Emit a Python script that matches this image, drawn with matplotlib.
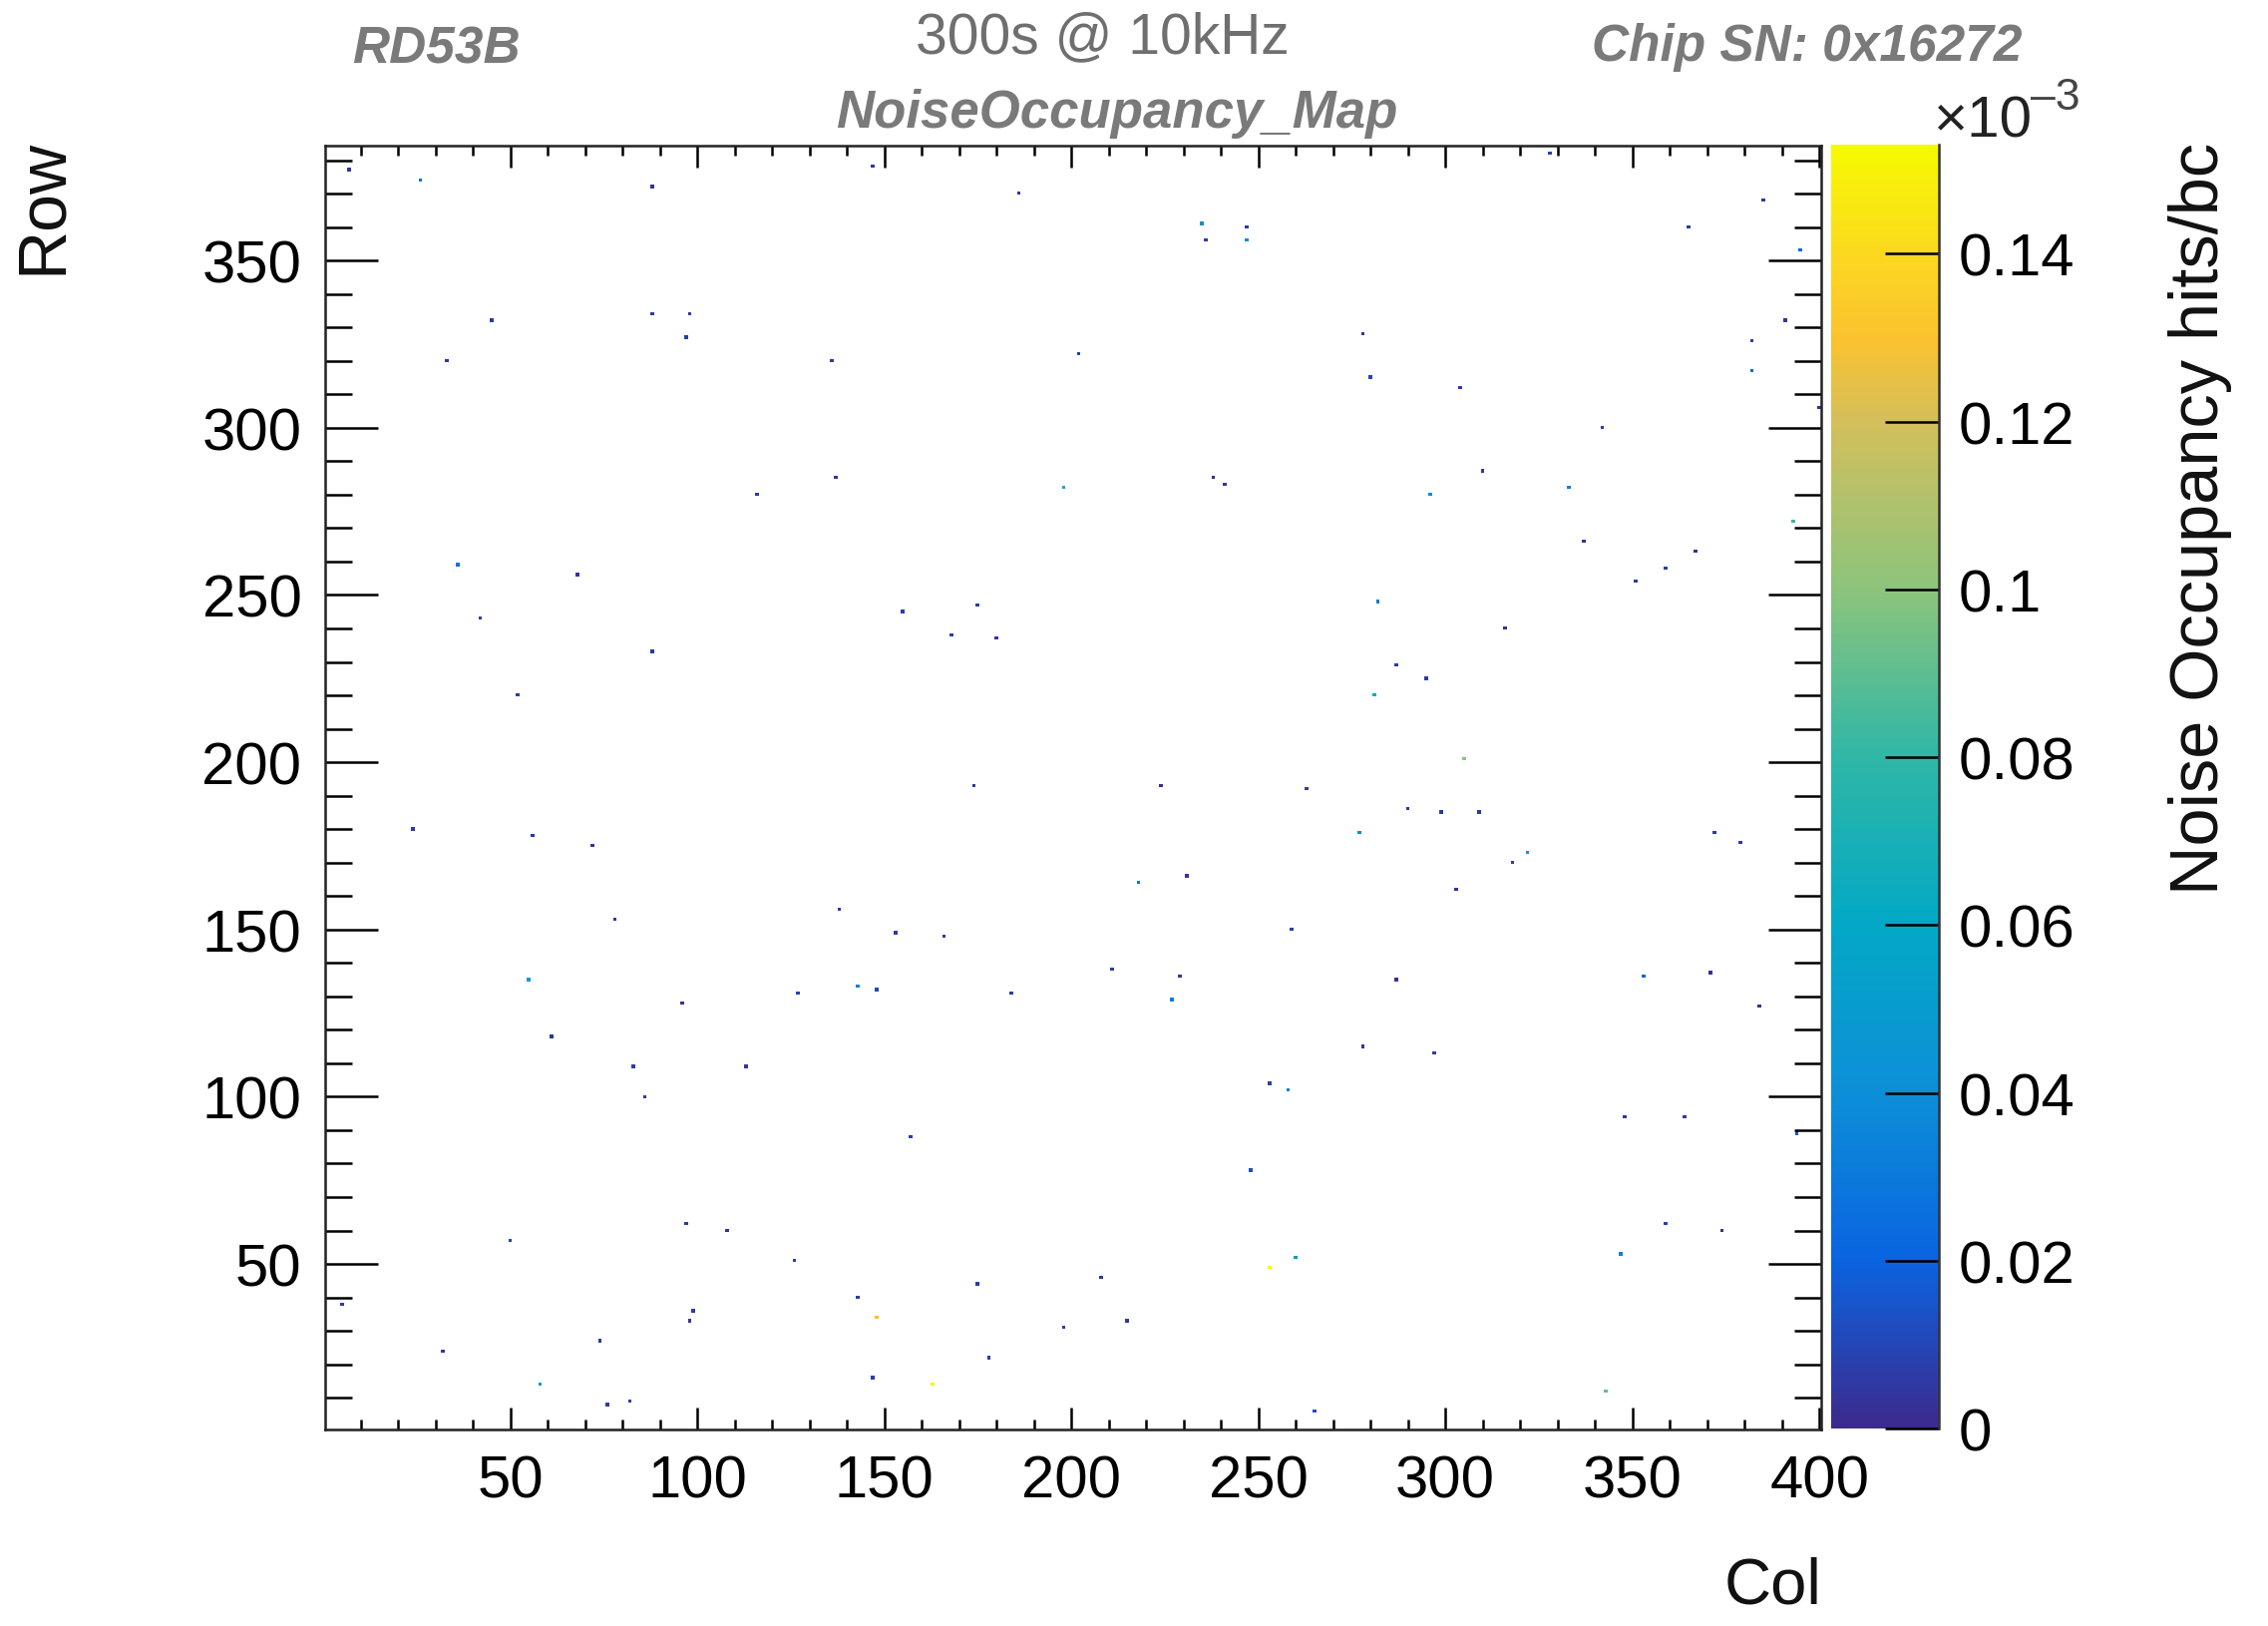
import numpy as np
import matplotlib
matplotlib.use("Agg")
import matplotlib.pyplot as plt
from matplotlib.colors import LinearSegmentedColormap
from matplotlib.lines import Line2D
from matplotlib.ticker import MultipleLocator

plt.rcParams['font.family'] = ['Liberation Sans', 'DejaVu Sans']

cols = [7,26,88,147,186,45,88,98,97,33,136,202,137,116,198,36,68,42,155,175,168,180,88,52,
        328,385,235,247,236,247,365,395,391,278,382,382,280,304,400,342,310,238,241,296,333,393,337,367,359,351,282,316,287,295,281,
        174,24,56,72,78,138,153,166,55,96,127,143,148,184,61,83,113,86,157,50,97,108,126,175,5,143,148,99,98,198,74,32,178,58,163,147,82,76,
        305,224,263,290,299,309,277,372,379,322,318,218,231,303,259,211,229,287,353,371,227,384,278,297,253,258,348,364,394,248,359,374,347,260,253,208,215,343,265]
rows = [377,374,372,378,370,332,334,334,327,320,320,322,285,280,282,259,256,243,245,247,238,237,233,220,
        382,368,361,360,356,356,360,353,332,328,326,317,315,312,306,300,287,285,283,280,282,272,266,263,258,254,248,240,229,225,220,
        193,180,178,175,153,156,149,148,135,128,131,133,132,131,118,109,109,100,88,57,62,60,51,44,38,40,34,36,33,31,27,24,22,14,14,16,9,8,
        201,193,192,186,185,185,179,179,176,173,170,164,166,162,150,138,136,135,136,137,129,127,115,113,104,102,94,94,89,78,62,60,53,52,49,46,33,12,6]
vals = [0.005,0.028,0.004,0.005,0.005,0.006,0.006,0.006,0.006,0.005,0.006,0.008,0.004,0.006,0.07,0.028,0.004,0.006,0.006,0.006,0.007,0.004,0.005,0.006,
        0.007,0.006,0.04,0.006,0.006,0.04,0.006,0.022,0.004,0.005,0.006,0.024,0.010,0.006,0.003,0.006,0.006,0.001,0.005,0.038,0.034,0.082,0.004,0.002,0.006,0.006,0.030,0.002,0.006,0.006,0.060,
        0.005,0.006,0.005,0.005,0.003,0.005,0.006,0.005,0.050,0.004,0.008,0.034,0.010,0.006,0.004,0.007,0.005,0.005,0.006,0.010,0.005,0.004,0.008,0.006,0.006,0.006,0.130,0.006,0.004,0.006,0.005,0.005,0.006,0.045,0.150,0.006,0.006,0.006,
        0.100,0.002,0.006,0.004,0.005,0.005,0.038,0.006,0.006,0.050,0.006,0.030,0.004,0.004,0.006,0.006,0.005,0.004,0.020,0.003,0.032,0.001,0.005,0.006,0.007,0.034,0.005,0.005,0.016,0.014,0.008,0.003,0.034,0.050,0.152,0.006,0.005,0.092,0.012]

x_ticks = [50,100,150,200,250,300,350,400]
y_ticks = [50,100,150,200,250,300,350]
z_ticks = [0,0.02,0.04,0.06,0.08,0.1,0.12,0.14]
z_labels = ['0','0.02','0.04','0.06','0.08','0.1','0.12','0.14']

W, H = 2274, 1631
fig = plt.figure(figsize=(W/100, H/100), dpi=100, facecolor='white')

def rect(l, t, r, b):
    return [l/W, 1-b/H, (r-l)/W, (b-t)/H]

ax = fig.add_axes(rect(326, 146.5, 1826, 1434))
cax = fig.add_axes(rect(1836, 146, 1944, 1433))

grid = np.full((384, 400), np.nan)
for c, r, v in zip(cols, rows, vals):
    grid[r-1, c-1] = v

cmap = LinearSegmentedColormap.from_list('bird', [
    (0/0.153, '#3c2a8c'), (0.01/0.153, '#2447b8'), (0.02/0.153, '#0a64e0'), (0.04/0.153, '#0d8fd8'),
    (0.06/0.153, '#03a8c6'), (0.08/0.153, '#2fb7a6'), (0.10/0.153, '#8cc47c'),
    (0.12/0.153, '#d3bf5c'), (0.13/0.153, '#fbc22f'), (0.14/0.153, '#fcd820'), (1, '#f5fa00')], N=255)
cmap.set_bad((1, 1, 1, 0))

im = ax.imshow(np.ma.masked_invalid(grid), origin='lower', extent=(0.5, 400.5, 0.5, 384.5),
               aspect='auto', cmap=cmap, vmin=0, vmax=0.153, interpolation='nearest')
ax.set_xlim(0.5, 400.5)
ax.set_ylim(0.5, 384.5)

ax.xaxis.set_major_locator(plt.FixedLocator(x_ticks))
ax.yaxis.set_major_locator(plt.FixedLocator(y_ticks))
ax.xaxis.set_minor_locator(MultipleLocator(10))
ax.yaxis.set_minor_locator(MultipleLocator(10))
ax.tick_params(axis='x', which='major', direction='in', top=True, bottom=True, length=16, width=1.8, labelsize=43, pad=18)
ax.tick_params(axis='x', which='minor', direction='in', top=True, bottom=True, length=7.5, width=1.8)
ax.tick_params(axis='y', which='major', direction='in', left=True, right=True, length=38, width=1.8, labelsize=43, pad=17)
ax.tick_params(axis='y', which='minor', direction='in', left=True, right=True, length=19.4, width=1.8)
for s in ax.spines.values():
    s.set_linewidth(1.8)
    s.set_color('#222222')

cb = fig.colorbar(im, cax=cax)
cb.set_ticks(z_ticks, labels=z_labels)
cb.minorticks_off()
cb.outline.set_visible(False)
cax.tick_params(axis='y', direction='in', right=True, length=39, width=1.8, labelsize=43, pad=14, color='black')
cax.add_line(Line2D([1, 1], [0, 1], transform=cax.transAxes, color='#333333', lw=1.8, clip_on=False))

gray = '#7a7a7a'
def T(x, y, s, **k):
    fig.text(x/W, 1-y/H, s, **k)

T(437, 50, 'RD53B', ha='center', va='center', fontsize=37, fontweight='bold', fontstyle='italic', color=gray)
T(1105, 38, '300s @ 10kHz', ha='center', va='center', fontsize=41, color='#6f6f6f')
T(1812, 48, 'Chip SN: 0x16272', ha='center', va='center', fontsize=37, fontweight='bold', fontstyle='italic', color=gray)
T(1120, 114, 'NoiseOccupancy_Map', ha='center', va='center', fontsize=38, fontweight='bold', fontstyle='italic', color=gray)
T(43, 207, 'Row', ha='center', va='center', rotation=90, fontsize=49, color='#111111')
T(1778, 1591, 'Col', ha='center', va='center', fontsize=47, color='#111111')
T(2206, 520, 'Noise Occupancy hits/bc', ha='center', va='center', rotation=90, fontsize=49.3, color='#111111')
T(1939, 137, '×10', ha='left', va='baseline', fontsize=42, color='#222222')
T(2036, 110, '–3', ha='left', va='baseline', fontsize=32, color='#444444')

fig.savefig('out.png', dpi=100, facecolor='white')
